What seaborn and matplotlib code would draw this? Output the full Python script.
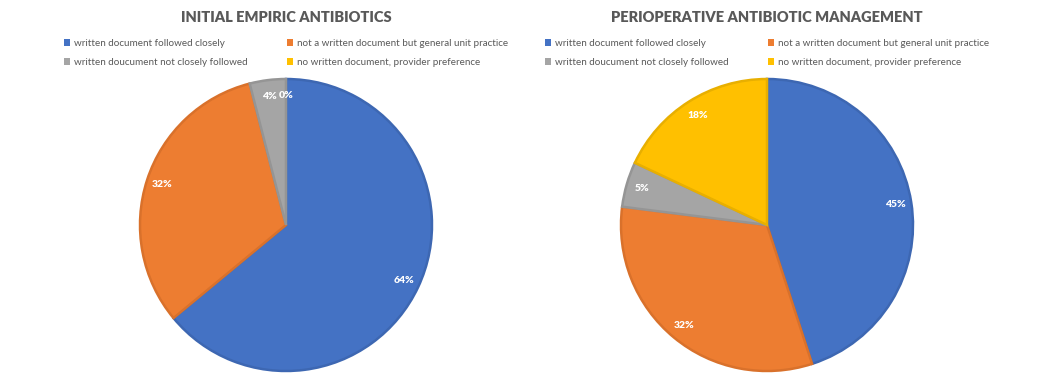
import numpy as np
import pandas as pd
import matplotlib
matplotlib.use("Agg")
import matplotlib.pyplot as plt
from matplotlib.patches import Patch
import seaborn as sns

categories = ["written document followed closely",
              "not a written document but general unit practice",
              "written doucument not closely followed",
              "no written document, provider preference"]
empiric = [64, 32, 4, 0]
periop = [45, 32, 5, 18]
titles = ["INITIAL EMPIRIC ANTIBIOTICS", "PERIOPERATIVE ANTIBIOTIC MANAGEMENT"]

colors = ["#4472C4", "#ED7D31", "#A5A5A5", "#FFC000"]
edges = ["#3D67B2", "#D9712B", "#959595", "#E8AF00"]

sns.set_theme(style="white")
plt.rcParams['font.family'] = ['Lato', 'DejaVu Sans']
grey_txt = "#595959"

W, H = 1052, 381
fig = plt.figure(figsize=(W / 100, H / 100), dpi=100)

centers = [(286, 225), (767, 225)]
R = 146
pad = 1.03
for (cx, cy), vals, title in zip(centers, [empiric, periop], titles):
    r = R * pad
    ax = fig.add_axes([(cx - r) / W, (H - cy - r) / H, 2 * r / W, 2 * r / H])
    wedges, texts, autotexts = ax.pie(
        vals, colors=colors, startangle=90, counterclock=False,
        autopct="%.0f%%", pctdistance=0.89,
        wedgeprops=dict(linewidth=1.8, edgecolor="white"),
        textprops=dict(color="white", fontsize=7.5, fontweight="heavy"))
    for w, e, v in zip(wedges, edges, vals):
        w.set_edgecolor(e)
        if v == 0:
            w.set_linewidth(0)
    ax.set_xlim(-pad, pad)
    ax.set_ylim(-pad, pad)
    ax.set_aspect("equal")

    fig.text(cx / W, 1 - 17 / H, title, ha="center", va="center",
             fontsize=10.5, fontweight="heavy", color=grey_txt)

    handles = [Patch(facecolor=c, edgecolor="none") for c in colors]
    # column-major order so rows read blue/orange, grey/yellow
    order = [0, 2, 1, 3]
    fig.legend([handles[i] for i in order], [categories[i] for i in order],
               ncol=2, loc="upper left",
               bbox_to_anchor=((cx - 222) / W, 1 - 39 / H),
               frameon=False, fontsize=7.1, labelcolor=grey_txt,
               handlelength=0.65, handleheight=0.65, handletextpad=0.35,
               columnspacing=4.0, labelspacing=1.0, borderpad=0,
               borderaxespad=0)

fig.savefig("out.png", dpi=100, facecolor="white")
